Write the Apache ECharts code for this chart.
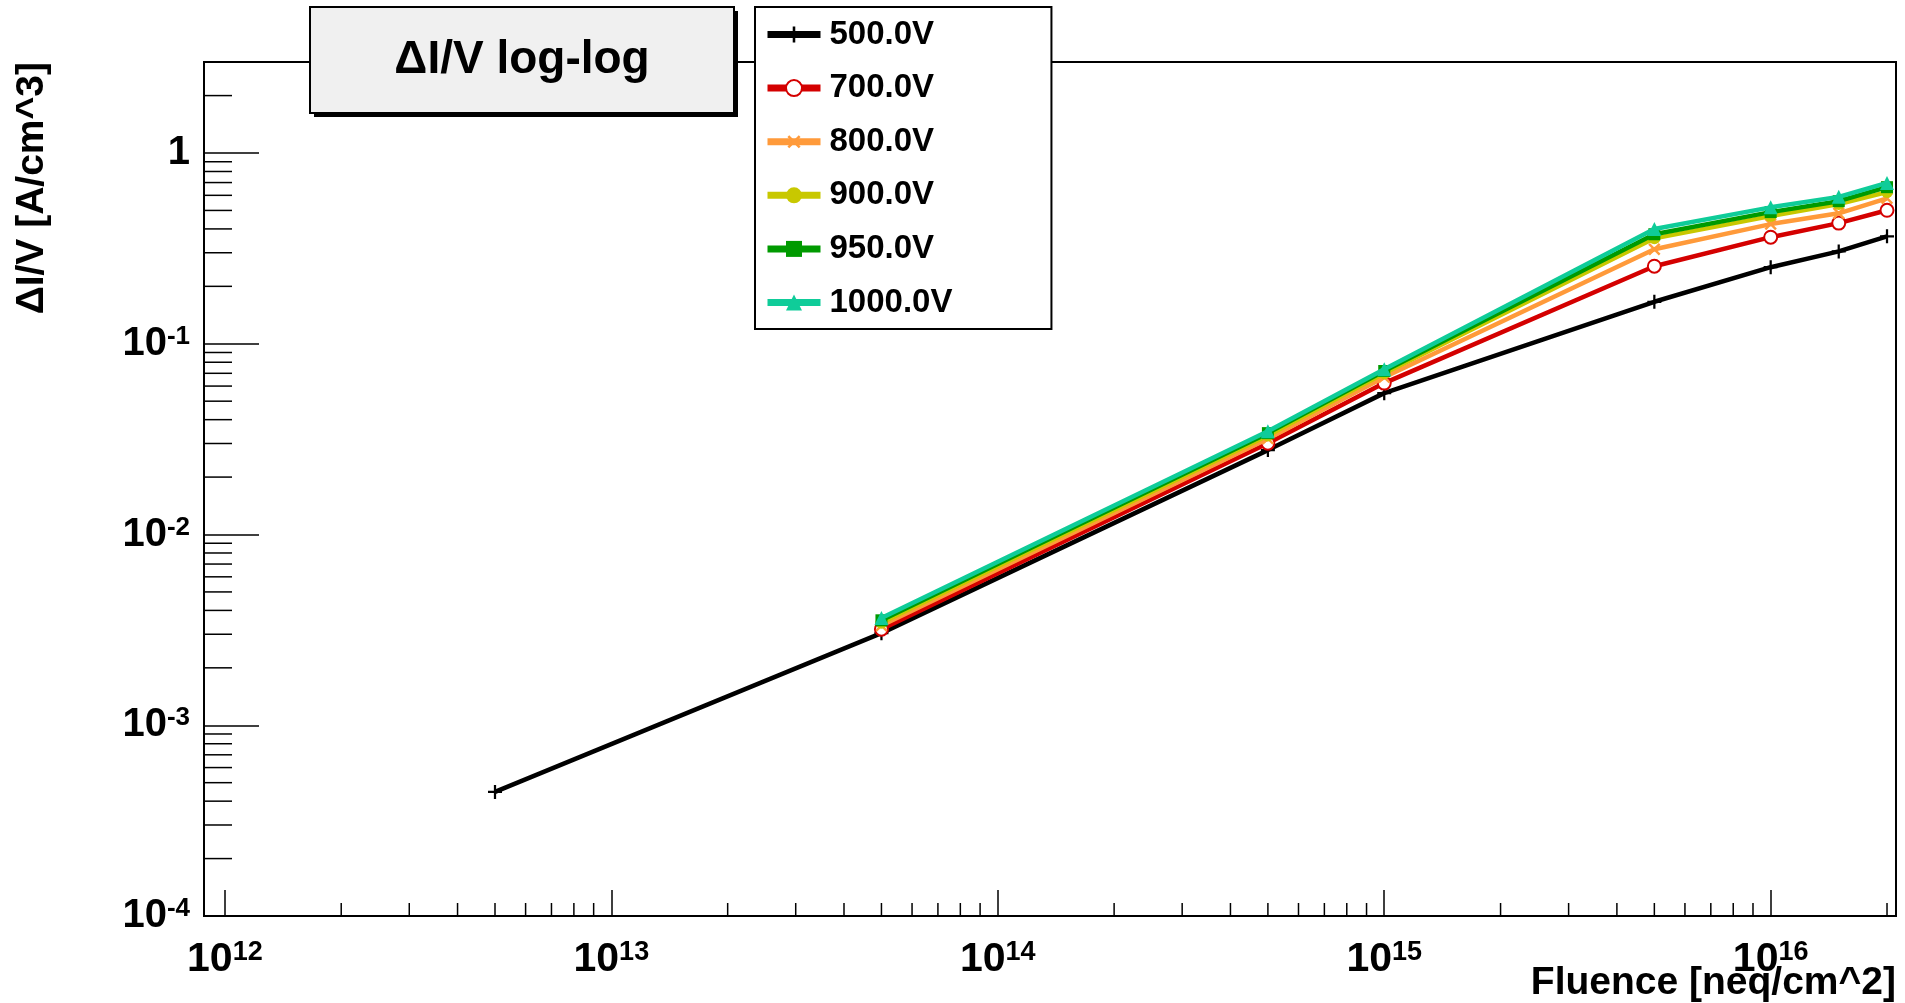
<!DOCTYPE html>
<html>
<head>
<meta charset="utf-8">
<title>ΔI/V log-log</title>
<script src="https://cdn.jsdelivr.net/npm/echarts@6/dist/echarts.min.js"></script>
<style>
  html, body { margin: 0; padding: 0; background: #fff; }
  #chart { width: 1905px; height: 1003px; }
</style>
</head>
<body>
<div id="chart"></div>
<script>
// Fluence points [neq/cm^2]
const fluence = [5e12, 5e13, 5e14, 1e15, 5e15, 1e16, 1.5e16, 2e16];

// ΔI/V [A/cm^3] per bias voltage (null = not measured)
const v500  = [4.47e-4, 3.04e-3, 0.0277, 0.0551, 0.166, 0.252, 0.305, 0.366];
const v700  = [null,    3.19e-3, 0.0301, 0.0622, 0.255, 0.362, 0.429, 0.501];
const v800  = [null,    3.33e-3, 0.0318, 0.0668, 0.313, 0.424, 0.483, 0.579];
const v900  = [null,    3.45e-3, 0.0330, 0.0700, 0.357, 0.467, 0.540, 0.624];
const v950  = [null,    3.55e-3, 0.0340, 0.0720, 0.375, 0.490, 0.559, 0.662];
const v1000 = [null,    3.65e-3, 0.0348, 0.0736, 0.400, 0.519, 0.589, 0.697];

const seriesNames = ['500.0V', '700.0V', '800.0V', '900.0V', '950.0V', '1000.0V'];
const seriesValues = [v500, v700, v800, v900, v950, v1000];

// Axis ranges
const xMin = 8.83e11, xMax = 2.11e16;
const yMin = 1e-4, yMax = 3;

const FONT = '"Liberation Sans", Arial, Helvetica, sans-serif';
const FONT_NARROW = '"Liberation Sans Narrow", "Arial Narrow", "Liberation Sans", Arial, sans-serif';

const PLUS = 'path://M-1.6,-10L1.6,-10L1.6,-1.6L10,-1.6L10,1.6L1.6,1.6L1.6,10L-1.6,10L-1.6,1.6L-10,1.6L-10,-1.6L-1.6,-1.6Z';
const styles = [
  { color: '#000000', symbol: PLUS,          size: 14, rotate: 0 },
  { color: '#d40000', symbol: 'emptyCircle', size: 13, rotate: 0 },
  { color: '#ff9a3a', symbol: PLUS,          size: 15, rotate: 45 },
  { color: '#c8c800', symbol: 'circle',      size: 12, rotate: 0 },
  { color: '#009a00', symbol: 'rect',        size: 12, rotate: 0 },
  { color: '#0fcc99', symbol: 'triangle',    size: 14, rotate: 0 }
];

// Minor tick positions (2..9 x 10^n) inside each axis range
function minorTicks(lo, hi, eFrom, eTo) {
  const out = [];
  for (let e = eFrom; e <= eTo; e++) {
    for (let m = 2; m <= 9; m++) {
      const v = m * Math.pow(10, e);
      if (v > lo * 1.03 && v < hi) out.push(v);
    }
  }
  return out;
}
const xMinor = minorTicks(xMin, xMax, 11, 16);
const yMinor = minorTicks(yMin, yMax, -4, 0);

function powLabel(v) {
  const e = Math.round(Math.log10(v));
  if (Math.abs(Math.log10(v) - e) > 1e-6) return '';
  if (e === 0) return '{b|1}';
  return '{b|10}{e|' + e + '}';
}
function richFor(font, base, sup) {
  return {
    b: { fontFamily: font, fontWeight: 'bold', fontSize: base, lineHeight: base, color: '#000', verticalAlign: 'bottom' },
    e: { fontFamily: font, fontWeight: 'bold', fontSize: sup, lineHeight: sup, color: '#000', verticalAlign: 'top' }
  };
}

const lineSeries = seriesNames.map((name, i) => ({
  name: name,
  type: 'line',
  data: fluence.map((x, k) => [x, seriesValues[i][k]]).filter(p => p[1] != null),
  symbol: styles[i].symbol,
  symbolSize: styles[i].size,
  symbolRotate: styles[i].rotate,
  showAllSymbol: true,
  lineStyle: { color: styles[i].color, width: 4.5 },
  itemStyle: { color: styles[i].color, borderColor: styles[i].color, borderWidth: i === 1 ? 2 : 0 },
  emphasis: { disabled: true },
  z: 3 + i
}));

const tickSeries = [
  {
    type: 'custom',
    silent: true,
    z: 10,
    data: xMinor.map(v => [v, yMin]),
    renderItem: function (params, api) {
      const p = api.coord([api.value(0), api.value(1)]);
      return { type: 'line', shape: { x1: p[0], y1: p[1], x2: p[0], y2: p[1] - 13 },
               style: { stroke: '#000', lineWidth: 1.5 } };
    }
  },
  {
    type: 'custom',
    silent: true,
    z: 10,
    data: yMinor.map(v => [xMin, v]),
    renderItem: function (params, api) {
      const p = api.coord([api.value(0), api.value(1)]);
      return { type: 'line', shape: { x1: p[0], y1: p[1], x2: p[0] + 28, y2: p[1] },
               style: { stroke: '#000', lineWidth: 1.5 } };
    }
  }
];

const chart = echarts.init(document.getElementById('chart'), null, { renderer: 'canvas' });
chart.setOption({
  animation: false,
  backgroundColor: '#ffffff',
  grid: {
    left: 204, right: 9, top: 62, bottom: 87,
    show: true, borderColor: '#000', borderWidth: 2, backgroundColor: 'transparent'
  },
  xAxis: {
    type: 'log', logBase: 10, min: xMin, max: xMax,
    axisLine: { show: true, lineStyle: { color: '#000', width: 2 } },
    axisTick: { show: true, inside: true, length: 26, lineStyle: { color: '#000', width: 1.5 } },
    splitLine: { show: false },
    axisLabel: {
      margin: 23, showMinLabel: false, showMaxLabel: false,
      formatter: powLabel, rich: richFor(FONT_NARROW, 41, 27)
    }
  },
  yAxis: {
    type: 'log', logBase: 10, min: yMin, max: yMax,
    axisLine: { show: true, lineStyle: { color: '#000', width: 2 } },
    axisTick: { show: true, inside: true, length: 55, lineStyle: { color: '#000', width: 1.5 } },
    splitLine: { show: false },
    axisLabel: {
      margin: 14, showMinLabel: true, showMaxLabel: false,
      formatter: powLabel, rich: richFor(FONT, 40, 26)
    }
  },
  legend: {
    data: seriesNames,
    orient: 'vertical',
    left: 755, top: 7,
    backgroundColor: '#ffffff',
    borderColor: '#000', borderWidth: 2,
    padding: [11, 99, 10, 9],
    itemWidth: 53, itemHeight: 20, itemGap: 20.6,
    selectedMode: false,
    lineStyle: { width: 7 },
    textStyle: { fontFamily: FONT, fontWeight: 'bold', fontSize: 33, lineHeight: 33, color: '#000', padding: [0, 0, 0, 4] }
  },
  graphic: [
    // title box with drop shadow
    { type: 'rect', shape: { x: 314, y: 11, width: 424, height: 106 }, style: { fill: '#000' }, z: 20 },
    { type: 'rect', shape: { x: 310, y: 7, width: 424, height: 106 }, style: { fill: '#f0f0f0', stroke: '#000', lineWidth: 2 }, z: 21 },
    { type: 'text', x: 522, y: 60, z: 22,
      style: { text: 'ΔI/V log-log', fontFamily: FONT, fontWeight: 'bold', fontSize: 46, fill: '#000', align: 'center', verticalAlign: 'middle' } },
    // axis titles
    { type: 'text', x: 32, y: 62, rotation: Math.PI / 2, z: 22,
      style: { text: 'ΔI/V [A/cm^3]', fontFamily: FONT, fontWeight: 'bold', fontSize: 39, fill: '#000', align: 'right', verticalAlign: 'middle' } },
    { type: 'text', x: 1896, y: 983, z: 22,
      style: { text: 'Fluence [neq/cm^2]', fontFamily: FONT, fontWeight: 'bold', fontSize: 39, fill: '#000', align: 'right', verticalAlign: 'middle' } }
  ],
  series: lineSeries.concat(tickSeries)
});
</script>
</body>
</html>
